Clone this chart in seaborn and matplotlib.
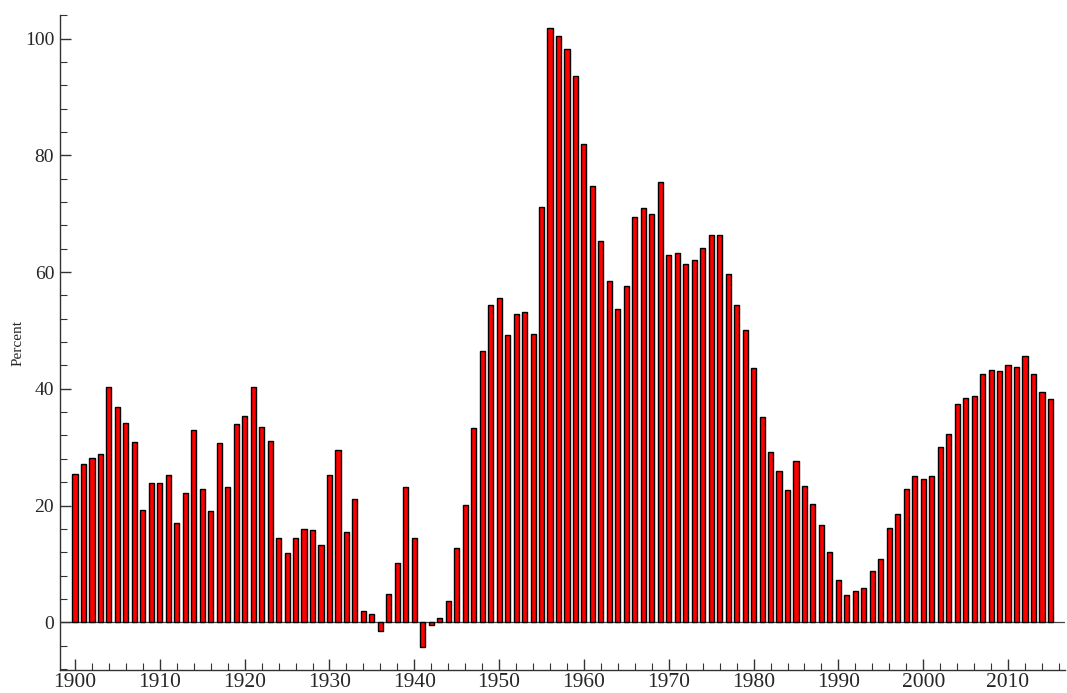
import numpy as np
import pandas as pd
import seaborn as sns
import matplotlib.pyplot as plt
from matplotlib.ticker import MultipleLocator

# Data
years = list(range(1900, 2016))
percent = [
    25.4, 27.2, 28.1, 28.9, 40.3, 36.8, 34.1, 30.9, 19.2, 23.9,
    23.8, 25.3, 17.0, 22.1, 33.0, 22.9, 19.0, 30.7, 23.1, 34.0,
    35.3, 40.3, 33.4, 31.0, 14.5, 11.8, 14.5, 15.9, 15.8, 13.2,
    25.2, 29.6, 15.4, 21.1, 2.0, 1.5, -1.5, 4.8, 10.2, 23.2,
    14.5, -4.2, -0.5, 0.8, 3.6, 12.8, 20.1, 33.2, 46.5, 54.4,
    55.6, 49.3, 52.8, 53.1, 49.4, 71.2, 101.9, 100.4, 98.3, 93.6,
    82.0, 74.7, 65.3, 58.4, 53.6, 57.6, 69.4, 70.9, 69.9, 75.4,
    63.0, 63.2, 61.4, 62.0, 64.1, 66.4, 66.4, 59.6, 54.4, 50.0,
    43.5, 35.1, 29.2, 25.9, 22.6, 27.7, 23.4, 20.3, 16.7, 12.0,
    7.2, 4.7, 5.3, 5.9, 8.8, 10.9, 16.1, 18.5, 22.9, 25.1,
    24.6, 25.0, 30.1, 32.3, 37.4, 38.5, 38.8, 42.5, 43.3, 43.1,
    44.1, 43.8, 45.6, 42.5, 39.5, 38.2,
]

df = pd.DataFrame({"year": years, "percent": percent})

sns.set_style("ticks")
plt.rcParams["font.family"] = ["Liberation Serif", "DejaVu Serif"]

fig = plt.figure(figsize=(10.67, 6.93), dpi=100)
ax = fig.add_axes([0.056, 0.033, 0.942, 0.945])

sns.barplot(data=df, x="year", y="percent", native_scale=True,
            color="#ff0000", saturation=1, width=0.6,
            edgecolor="black", linewidth=1.0, ax=ax)

# zero reference line
ax.axhline(0, color="#444444", lw=0.9, zorder=0)

ax.set_xlim(1898.2, 2016.7)
ax.set_ylim(-8.2, 104)
ax.xaxis.set_major_locator(MultipleLocator(10))
ax.xaxis.set_minor_locator(MultipleLocator(2))
ax.yaxis.set_major_locator(MultipleLocator(20))
ax.yaxis.set_minor_locator(MultipleLocator(4))
ax.tick_params(which="both", direction="in", color="#333333")
ax.tick_params(which="major", length=8, width=1)
ax.tick_params(which="minor", length=5, width=0.8)
ax.tick_params(axis="x", labelsize=15.5, pad=2)
ax.tick_params(axis="y", labelsize=14, pad=4)

sns.despine(ax=ax)
for s in ["left", "bottom"]:
    ax.spines[s].set_color("#333333")
    ax.spines[s].set_linewidth(1.0)

ax.set_xlabel("")
ax.set_ylabel("Percent", fontsize=11)
ax.yaxis.set_label_coords(-0.035, 0.5)

fig.savefig("out.png", dpi=100)
